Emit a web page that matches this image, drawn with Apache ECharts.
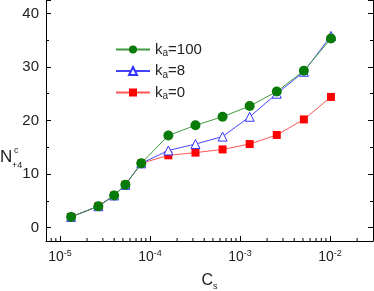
<!DOCTYPE html>
<html><head><meta charset="utf-8">
<script src="https://cdn.jsdelivr.net/npm/echarts@6/dist/echarts.min.js"></script>
<style>html,body{margin:0;padding:0;background:#fff}#c{width:374px;height:291px}</style>
</head><body><div id="c"></div>
<script>
var cs = [1.33e-5, 2.67e-5, 4e-5, 5.33e-5, 8e-5, 1.6e-4, 3.2e-4, 6.4e-4, 1.28e-3, 2.56e-3, 5.12e-3, 1.024e-2];
var ka100 = [2.0, 4.0, 6.0, 8.0, 12.0, 17.2, 19.1, 20.7, 22.7, 25.4, 29.3, 35.3];
var ka8   = [2.0, 4.0, 6.0, 8.0, 12.0, 14.4, 15.6, 17.0, 20.7, 25.0, 29.1, 35.8];
var ka0   = [2.0, 4.0, 6.0, 8.0, 12.0, 13.5, 14.0, 14.6, 15.6, 17.3, 20.2, 24.4];
var seriesNames = ['k{sub|a}=100', 'k{sub|a}=8', 'k{sub|a}=0'];
var minorXTicks = [8e-6, 9e-6, 2e-5, 3e-5, 4e-5, 5e-5, 6e-5, 7e-5, 8e-5, 9e-5,
  2e-4, 3e-4, 4e-4, 5e-4, 6e-4, 7e-4, 8e-4, 9e-4,
  2e-3, 3e-3, 4e-3, 5e-3, 6e-3, 7e-3, 8e-3, 9e-3, 2e-2];

function pairs(ys){ return cs.map(function(x,i){return [x, ys[i]];}); }

var chart = echarts.init(document.getElementById('c'), null, {renderer:'canvas'});
var F = '"Liberation Sans", Arial, sans-serif';
var labelRich = { sup: {fontSize: 9, verticalAlign: 'top', padding:[0,0,8,0], fontFamily: F, color:'#222'} };
function yAxisDef(right){
  return {
    type: 'value', min: -2.5, max: 42.5, splitNumber: 5, position: right ? 'right' : 'left',
    axisLine: {show: true, onZero: false, lineStyle: {color:'#000', width: 1}},
    axisTick: {inside: true, length: 5, lineStyle: {color:'#000'}},
    minorTick: {show: true, splitNumber: 2, length: 3, lineStyle: {color:'#000'}},
    axisLabel: {show: !right, showMinLabel: false, showMaxLabel: false, margin: 7, fontFamily: F, fontSize: 15, color:'#222'},
    splitLine: {show: false}
  };
}
chart.setOption({
  animation: false,
  grid: {left: 46, right: 1, top: 0, bottom: 50, show: false, containLabel: false, outerBoundsMode: 'none'},
  legend: {
    left: 110, top: 37, orient: 'vertical', itemGap: 5, itemWidth: 34, itemHeight: 10,
    data: [seriesNames[0], seriesNames[1], seriesNames[2]],
    textStyle: {fontFamily: F, fontSize: 15, color: '#222',
      rich: {sub: {fontSize: 10, verticalAlign: 'bottom', padding:[8,0,0,0], fontFamily: F, color:'#222'}}}
  },
  xAxis: [{
    type: 'log', min: 7e-6, max: 3e-2, logBase: 10,
    axisLine: {show: true, onZero: false, lineStyle: {color: '#000', width: 1}},
    axisTick: {inside: true, length: 5, lineStyle: {color:'#000'}},
    axisLabel: {showMinLabel: false, showMaxLabel: false, margin: 8, fontFamily: F, fontSize: 14, color: '#222',
      formatter: function(v){ var e = Math.round(Math.log10(v)); return '10{sup|' + e + '}'; },
      rich: labelRich},
    splitLine: {show: false},
    name: 'C{sub|s}', nameLocation: 'middle', nameGap: 29,
    nameTextStyle: {fontFamily: F, fontSize: 16, color:'#222',
      rich: {sub:{fontSize: 9, verticalAlign:'bottom', padding:[12,0,0,0], fontFamily: F, color:'#222'}}}
  }],
  yAxis: [yAxisDef(false), yAxisDef(true)],
  graphic: [{
    type: 'text', left: 0, top: 149,
    style: {text: 'N', fontFamily: F, fontSize: 17, fill: '#222'}
  }, {
    type: 'text', left: 14, top: 146, style: {text: 'c', fontFamily: F, fontSize: 9, fill:'#222'}
  }, {
    type: 'text', left: 12, top: 161, style: {text: '+4', fontFamily: F, fontSize: 9, fill:'#222'}
  }],
  series: [{
    name: seriesNames[2], type: 'line', data: pairs(ka0), z: 2,
    symbol: 'rect', symbolSize: 8,
    lineStyle: {color: '#ff5555', width: 1},
    itemStyle: {color: '#ff0000', borderWidth: 0}
  }, {
    name: seriesNames[1], type: 'line', data: pairs(ka8), z: 3,
    symbol: 'triangle', symbolSize: 9,
    lineStyle: {color: '#4444ff', width: 1},
    itemStyle: {color: '#ffffff', borderColor: '#3333ff', borderWidth: 1}
  }, {
    name: seriesNames[0], type: 'line', data: pairs(ka100), z: 4,
    symbol: 'circle', symbolSize: 10,
    lineStyle: {color: '#3f9a3f', width: 1},
    itemStyle: {color: '#087a08', borderWidth: 0}
  }, {
    type: 'custom', silent: true, z: 5, legendHoverLink: false,
    data: minorXTicks.map(function(v){return [v];}),
    renderItem: function(params, api){
      var p = api.coord([api.value(0), -2.5]);
      return {type: 'line', shape: {x1: p[0], y1: p[1], x2: p[0], y2: p[1] - 3}, style: {stroke: '#000', lineWidth: 1}};
    },
    encode: {x: 0}
  }]
});
</script></body></html>
